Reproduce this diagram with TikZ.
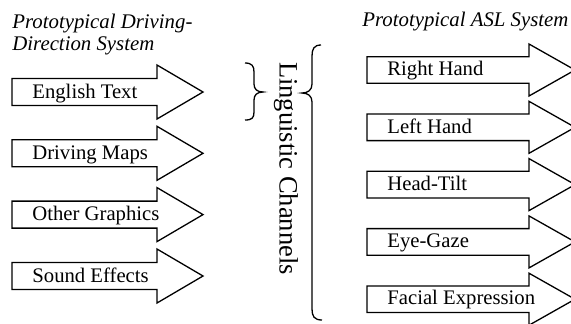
\documentclass[tikz,border=0pt]{standalone}
\usepackage{fontspec}
\setmainfont{Liberation Serif}

\begin{document}
\begin{tikzpicture}[
        x=0.5pt, y=-0.5pt,
        outline/.style={draw=black, line width=0.65pt, fill=white, line join=miter},
        chantext/.style={anchor=base west, inner sep=0pt, font=\fontsize{10.35}{12}\selectfont},
        heading/.style={anchor=base west, align=left, inner sep=0pt, font=\itshape\fontsize{10.4}{11}\selectfont},
        brc/.style={draw=black, line width=0.65pt}
    ]
        \useasboundingbox (0,0) rectangle (571,323);

        % headings
        \node[heading] (drvhead) at (12,50) {Prototypical Driving-\\Direction System};
        \node[heading] (aslhead) at (362,26) {Prototypical ASL System};

        % driving-direction channels
        \draw[outline] (12,78.5) -- (157,78.5) -- (157,65) -- (203,92) -- (157,119) -- (157,105.5) -- (12,105.5) -- cycle;
        \node[chantext] (eng) at (32,98) {English Text};
        \draw[outline] (12,139.8) -- (157,139.8) -- (157,126.3) -- (203,153.3) -- (157,180.3) -- (157,166.8) -- (12,166.8) -- cycle;
        \node[chantext] (maps) at (32,159.3) {Driving Maps};
        \draw[outline] (12,201.1) -- (157,201.1) -- (157,187.6) -- (203,214.6) -- (157,241.6) -- (157,228.1) -- (12,228.1) -- cycle;
        \node[chantext] (gfx) at (32,220.6) {Other Graphics};
        \draw[outline] (12,262.5) -- (157,262.5) -- (157,249) -- (203,276) -- (157,303) -- (157,289.5) -- (12,289.5) -- cycle;
        \node[chantext] (sound) at (32,282) {Sound Effects};

        % ASL channels
        \draw[outline] (367,56.7) -- (529,56.7) -- (529,44) -- (575,70) -- (529,96) -- (529,83.3) -- (367,83.3) -- cycle;
        \node[chantext] (rhand) at (387,75.7) {Right Hand};
        \draw[outline] (367,114) -- (529,114) -- (529,101.3) -- (575,127.3) -- (529,153.3) -- (529,140.6) -- (367,140.6) -- cycle;
        \node[chantext] (lhand) at (387,133) {Left Hand};
        \draw[outline] (367,171.3) -- (529,171.3) -- (529,158.6) -- (575,184.6) -- (529,210.6) -- (529,197.9) -- (367,197.9) -- cycle;
        \node[chantext] (tilt) at (387,190.3) {Head-Tilt};
        \draw[outline] (367,228.6) -- (529,228.6) -- (529,215.9) -- (575,241.9) -- (529,267.9) -- (529,255.2) -- (367,255.2) -- cycle;
        \node[chantext] (gaze) at (387,247.6) {Eye-Gaze};
        \draw[outline] (367,285.9) -- (529,285.9) -- (529,273.2) -- (575,299.2) -- (529,325.2) -- (529,312.5) -- (367,312.5) -- cycle;
        \node[chantext] (face) at (387,304.9) {Facial Expression};

        % label and braces
        \node[rotate=-90, anchor=base, inner sep=0pt, font=\fontsize{13.25}{15}\selectfont] (chan) at (279.5,168.5) {Linguistic Channels};
        \draw[brc] (245,63) .. controls (252,63) and (254,66) .. (254,72) -- (254,84)
            .. controls (254,89) and (257,92) .. (263,92)
            .. controls (257,92) and (254,95) .. (254,100) -- (254,112)
            .. controls (254,118) and (252,120) .. (245,120);
        \draw[brc] (321,45) .. controls (314,45) and (312,49) .. (312,56) -- (312,84)
            .. controls (312,90) and (308,93) .. (302,93)
            .. controls (308,93) and (312,96) .. (312,102) -- (312,309)
            .. controls (312,316) and (314,320) .. (322,320);
    \end{tikzpicture}
\end{document}
